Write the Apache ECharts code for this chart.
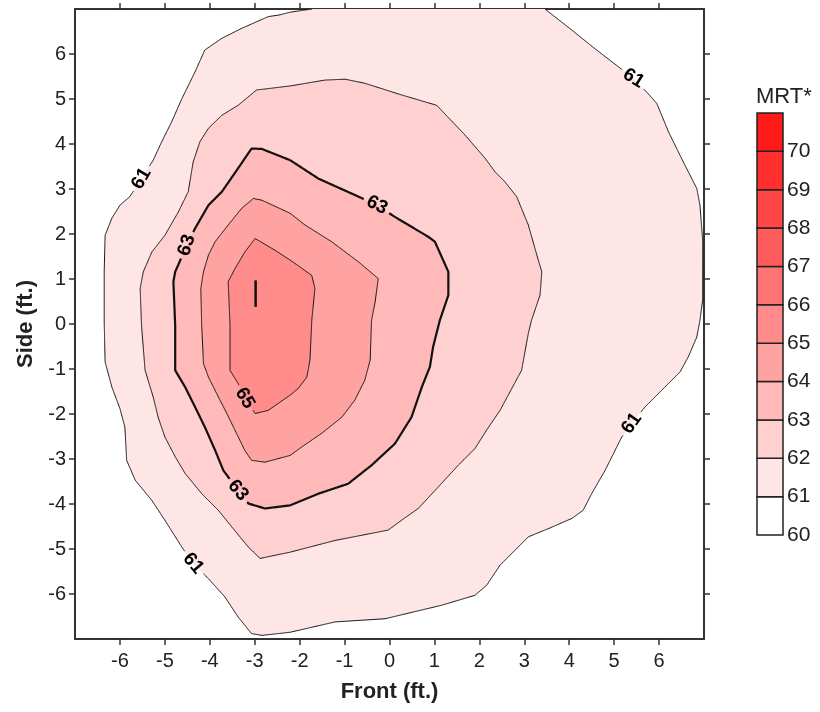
<!DOCTYPE html>
<html><head><meta charset="utf-8">
<script src="https://cdn.jsdelivr.net/npm/echarts@6/dist/echarts.min.js"></script>
<style>html,body{margin:0;padding:0;background:#fff}#c{width:820px;height:712px}</style>
</head><body><div id="c"></div>
<script>
// ---------- data ----------
const xTicks = [-6,-5,-4,-3,-2,-1,0,1,2,3,4,5,6];
const yTicks = [-6,-5,-4,-3,-2,-1,0,1,2,3,4,5,6];
const levels = [60,61,62,63,64,65,66,67,68,69,70];
const levelColors = ['#ffffff','#ffe6e6','#ffd0d0','#ffb9b9','#ffa2a2','#ff8b8b','#ff7474','#ff5d5d','#ff4646','#ff2f2f','#ff1a1a'];

// 61 contour: open line, region closed along top edge (y = 7)
const contour61 = [[-1.72,7.0],[-2.21,6.93],[-2.44,6.87],[-2.70,6.83],[-3.29,6.57],[-3.73,6.35],[-4.11,6.09],[-4.33,5.60],[-4.62,5.01],[-4.85,4.49],[-5.07,4.05],[-5.26,3.64],[-5.52,3.23],[-5.78,2.83],[-6.00,2.64],[-6.18,2.35],[-6.33,1.97],[-6.35,1.16],[-6.35,0.05],[-6.33,-0.84],[-6.18,-1.40],[-6.00,-1.88],[-5.89,-2.29],[-5.85,-3.03],[-5.66,-3.47],[-5.29,-3.92],[-5.00,-4.36],[-4.62,-4.96],[-4.37,-5.32],[-4.03,-5.66],[-3.66,-6.07],[-3.37,-6.51],[-3.07,-6.88],[-2.84,-6.92],[-2.21,-6.85],[-1.21,-6.62],[-0.10,-6.55],[1.16,-6.25],[1.90,-6.03],[2.16,-5.81],[2.46,-5.36],[2.64,-5.18],[3.09,-4.73],[3.53,-4.55],[4.06,-4.32],[4.31,-4.14],[4.50,-3.77],[4.80,-3.25],[5.17,-2.51],[5.39,-2.21],[5.69,-1.84],[6.06,-1.47],[6.47,-1.06],[6.65,-0.73],[6.84,-0.29],[6.91,0.08],[6.97,0.53],[6.97,1.86],[6.91,2.64],[6.84,3.01],[6.50,3.68],[6.21,4.27],[5.95,4.90],[5.72,5.16],[5.43,5.46],[5.09,5.72],[4.57,6.12],[4.06,6.53],[3.46,7.0]];
const contour62 = [[-2.21,5.29],[-2.96,5.20],[-3.37,4.86],[-3.73,4.64],[-4.03,4.35],[-4.22,4.05],[-4.37,3.60],[-4.48,2.94],[-4.70,2.49],[-5.00,1.97],[-5.29,1.60],[-5.48,1.16],[-5.55,0.79],[-5.52,-0.03],[-5.44,-1.03],[-5.26,-1.62],[-5.15,-2.07],[-5.00,-2.51],[-4.77,-2.95],[-4.55,-3.32],[-4.18,-3.77],[-3.81,-4.14],[-3.51,-4.51],[-3.14,-4.96],[-2.88,-5.21],[-2.55,-5.14],[-2.21,-5.07],[-1.21,-4.81],[-0.03,-4.58],[0.27,-4.36],[0.64,-4.10],[1.05,-3.66],[1.53,-3.14],[1.90,-2.77],[2.16,-2.36],[2.46,-1.92],[2.94,-1.03],[3.09,-0.21],[3.16,0.08],[3.35,0.64],[3.39,1.16],[3.28,1.53],[3.09,2.20],[2.83,2.83],[2.57,3.16],[2.35,3.38],[2.13,3.68],[1.68,4.20],[1.05,4.86],[0.27,5.09],[-0.55,5.35],[-0.99,5.44],[-1.44,5.42]];
const contour63 = [[-2.21,3.64],[-2.84,3.89],[-3.07,3.90],[-3.37,3.46],[-3.73,2.94],[-4.03,2.64],[-4.33,2.12],[-4.51,1.75],[-4.77,1.16],[-4.81,0.94],[-4.77,-0.03],[-4.77,-1.03],[-4.55,-1.40],[-4.33,-1.84],[-4.11,-2.29],[-3.88,-2.81],[-3.70,-3.25],[-3.37,-3.70],[-3.14,-3.99],[-2.77,-4.10],[-2.21,-4.03],[-1.58,-3.77],[-0.92,-3.55],[-0.40,-3.14],[0.12,-2.66],[0.49,-2.07],[0.72,-1.40],[0.90,-0.95],[0.97,-0.51],[1.12,0.08],[1.31,0.64],[1.31,1.16],[1.01,1.83],[0.86,1.94],[0.12,2.38],[-0.28,2.64],[-0.69,2.83],[-1.58,3.23]];
const contour64 = [[-2.21,2.46],[-2.84,2.75],[-3.03,2.79],[-3.29,2.57],[-3.59,2.20],[-3.88,1.83],[-4.03,1.53],[-4.14,1.16],[-4.20,0.79],[-4.18,-0.03],[-4.14,-0.88],[-4.03,-1.18],[-3.81,-1.62],[-3.62,-1.99],[-3.44,-2.36],[-3.22,-2.81],[-3.07,-3.03],[-2.77,-3.07],[-2.21,-2.92],[-1.95,-2.73],[-1.51,-2.43],[-1.06,-2.07],[-0.77,-1.69],[-0.55,-1.25],[-0.43,-0.80],[-0.40,0.08],[-0.32,0.49],[-0.25,1.01],[-0.69,1.38],[-1.29,1.83],[-1.88,2.20]];
const contour65 = [[-2.21,1.42],[-2.55,1.64],[-2.99,1.90],[-3.22,1.60],[-3.44,1.23],[-3.59,0.94],[-3.55,-0.03],[-3.55,-1.03],[-3.37,-1.32],[-3.22,-1.65],[-2.99,-1.99],[-2.70,-1.92],[-2.21,-1.58],[-2.03,-1.43],[-1.84,-1.18],[-1.77,-0.80],[-1.73,0.08],[-1.66,0.79],[-1.73,1.08]];
const contour66 = [[-2.98,0.97],[-2.98,0.38]];

const contourLabels = [
  {level:61, x:-5.52, y:3.23, angle:60},
  {level:61, x:-4.37, y:-5.32, angle:-50},
  {level:61, x:5.43, y:5.46, angle:-32},
  {level:61, x:5.39, y:-2.21, angle:55},
  {level:63, x:-4.51, y:1.75, angle:72},
  {level:63, x:-3.37, y:-3.70, angle:-50},
  {level:63, x:-0.28, y:2.64, angle:-27},
  {level:65, x:-3.22, y:-1.65, angle:-60}
];

// ---------- helpers ----------
const FONT = 'Liberation Sans, Arial, sans-serif';
function gapped(line, gaps, r) {
  const out = []; let cur = [];
  for (let i = 0; i < line.length - 1; i++) {
    const a = line[i], b = line[i + 1];
    const len = Math.hypot(b[0] - a[0], b[1] - a[1]);
    const n = Math.max(1, Math.ceil(len));
    for (let k = (i === 0 ? 0 : 1); k <= n; k++) {
      const t = k / n;
      const p = [a[0] + (b[0] - a[0]) * t, a[1] + (b[1] - a[1]) * t];
      const hit = gaps.some(g => Math.hypot(p[0] - g[0], p[1] - g[1]) < r);
      if (hit) { if (cur.length > 1) out.push(cur); cur = []; }
      else cur.push(p);
    }
  }
  if (cur.length > 1) out.push(cur);
  return out;
}
function contourSeries(level, pts, closed, fill, lw, z) {
  const labs = contourLabels.filter(l => l.level === level);
  return {
    type: 'custom', xAxisIndex: 0, yAxisIndex: 0, clip: true, silent: true, z: z,
    data: pts, encode: { x: 0, y: 1 },
    renderItem: function (params, api) {
      if (params.dataIndex !== 0) return null;
      const P = pts.map(p => api.coord(p));
      const children = [];
      if (fill) children.push({ type: 'polygon', shape: { points: P }, style: { fill: fill, stroke: 'none' } });
      const line = closed ? P.concat([P[0]]) : P;
      const gaps = labs.map(l => api.coord([l.x, l.y]));
      gapped(line, gaps, 14).forEach(seg => children.push({
        type: 'polyline', shape: { points: seg }, style: { stroke: '#111', lineWidth: lw, fill: 'none', lineJoin: 'round' }
      }));
      labs.forEach(l => {
        const c = api.coord([l.x, l.y]);
        children.push({ type: 'text', x: c[0], y: c[1], rotation: l.angle * Math.PI / 180,
          style: { text: String(l.level), fontSize: 19, fontWeight: 'bold', fontFamily: FONT, fill: '#000',
            align: 'center', verticalAlign: 'middle' } });
      });
      return { type: 'group', children: children };
    }
  };
}

const axisLineStyle = { color: '#333', width: 2 };
const chart = echarts.init(document.getElementById('c'), null, { renderer: 'canvas' });
chart.setOption({
  animation: false,
  backgroundColor: '#fff',
  title: { text: 'MRT*', left: 751, top: 81, textStyle: { fontSize: 22, fontWeight: 'normal', color: '#222', fontFamily: FONT } },
  grid: [
    { left: 75, top: 9, width: 629, height: 630 },
    { left: 757, top: 113, width: 26, height: 422 }
  ],
  xAxis: [
    { gridIndex: 0, type: 'value', min: -7, max: 7, position: 'bottom',
      axisLine: { show: true, onZero: false, lineStyle: axisLineStyle },
      axisTick: { show: true, length: 6, customValues: xTicks, lineStyle: { color: '#333', width: 1.5 } },
      axisLabel: { customValues: xTicks, fontSize: 20, color: '#222', margin: 12, fontFamily: FONT },
      splitLine: { show: false },
      name: 'Front (ft.)', nameLocation: 'middle', nameGap: 42,
      nameTextStyle: { fontWeight: 'bold', fontSize: 22, color: '#222', fontFamily: FONT } },
    { gridIndex: 0, type: 'value', min: -7, max: 7, position: 'top',
      axisLine: { show: true, onZero: false, lineStyle: axisLineStyle },
      axisTick: { show: true, length: 6, customValues: xTicks, lineStyle: { color: '#333', width: 1.5 } },
      axisLabel: { show: false }, splitLine: { show: false } },
    { gridIndex: 1, type: 'value', min: 0, max: 1, show: false }
  ],
  yAxis: [
    { gridIndex: 0, type: 'value', min: -7, max: 7, position: 'left',
      axisLine: { show: true, onZero: false, lineStyle: axisLineStyle },
      axisTick: { show: true, length: 6, customValues: yTicks, lineStyle: { color: '#333', width: 1.5 } },
      axisLabel: { customValues: yTicks, fontSize: 20, color: '#222', margin: 9, fontFamily: FONT },
      splitLine: { show: false },
      name: 'Side (ft.)', nameLocation: 'middle', nameGap: 38,
      nameTextStyle: { fontWeight: 'bold', fontSize: 22, color: '#222', fontFamily: FONT } },
    { gridIndex: 0, type: 'value', min: -7, max: 7, position: 'right',
      axisLine: { show: true, onZero: false, lineStyle: axisLineStyle },
      axisTick: { show: true, length: 6, customValues: yTicks, lineStyle: { color: '#333', width: 1.5 } },
      axisLabel: { show: false }, splitLine: { show: false } },
    { gridIndex: 1, type: 'value', min: 60, max: 71, position: 'right',
      axisLine: { show: false }, axisTick: { show: false }, splitLine: { show: false },
      axisLabel: { customValues: levels, fontSize: 21, color: '#222', margin: 4, fontFamily: FONT } }
  ],
  series: [
    contourSeries(61, contour61, false, levelColors[1], 1, 2),
    contourSeries(62, contour62, true, levelColors[2], 1, 3),
    contourSeries(63, contour63, true, levelColors[3], 2.2, 4),
    contourSeries(64, contour64, true, levelColors[4], 1, 5),
    contourSeries(65, contour65, true, levelColors[5], 1, 6),
    contourSeries(66, contour66, false, null, 2.5, 7),
    {
      type: 'custom', xAxisIndex: 2, yAxisIndex: 2, silent: true,
      data: levels.map((l, i) => [0, l, i]),
      encode: { x: 0, y: 1 },
      renderItem: function (params, api) {
        const l = api.value(1), i = api.value(2);
        const a = api.coord([0, l + 1]), b = api.coord([1, l]);
        return { type: 'rect', shape: { x: a[0], y: a[1], width: b[0] - a[0], height: b[1] - a[1] },
          style: { fill: levelColors[i], stroke: '#222', lineWidth: 1.5 } };
      }
    }
  ]
});
</script></body></html>
